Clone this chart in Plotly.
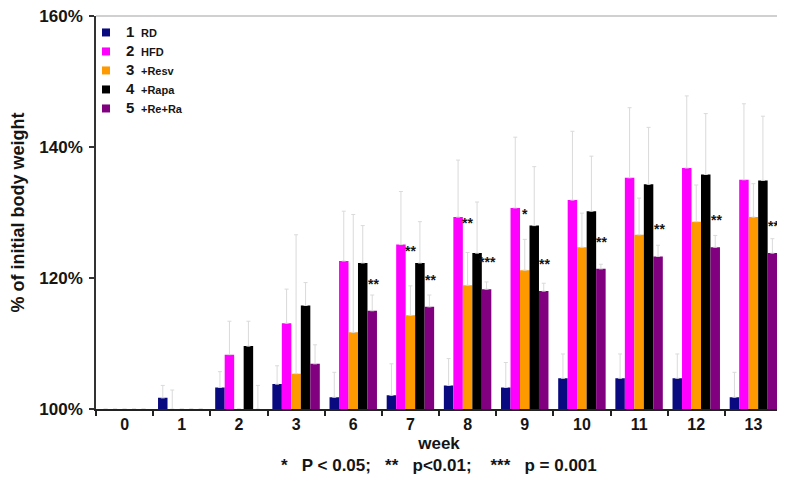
import plotly.graph_objects as go

weeks = ['0', '1', '2', '3', '6', '7', '8', '9', '10', '11', '12', '13']

rd = [100, 101.7, 103.3, 103.8, 101.8, 102.1, 103.6, 103.3, 104.7, 104.7, 104.7, 101.8]
rd_err = [0, 1.9, 2.4, 2.8, 3.8, 4.8, 4.1, 3.8, 3.7, 3.7, 3.7, 3.8]

hfd = [100, 100, 108.3, 113.1, 122.6, 125.1, 129.3, 130.7, 131.9, 135.3, 136.8, 135.0]
hfd_err = [0, 2.9, 5.1, 5.2, 7.6, 8.1, 8.7, 10.8, 10.5, 10.7, 11.0, 11.6]

resv = [100, 100, 100, 105.4, 111.7, 114.3, 118.9, 121.2, 124.7, 126.6, 128.6, 129.3]
resv_err = [0, 0, 0, 21.2, 18.0, 4.5, 5.0, 4.7, 5.2, 5.6, 5.6, 5.1]

rapa = [100, 100, 109.6, 115.8, 122.3, 122.3, 123.8, 128.0, 130.2, 134.3, 135.8, 134.9]
rapa_err = [0, 0, 3.8, 3.5, 5.7, 6.3, 7.8, 9.0, 8.4, 8.7, 9.3, 9.8]

rera = [100, 100, 100, 106.9, 115.0, 115.6, 118.3, 118.0, 121.4, 123.3, 124.7, 123.8]
rera_err = [0, 0, 3.6, 2.9, 2.4, 1.8, 1.1, 1.2, 0.7, 1.7, 1.8, 2.2]

hfd_stars = ['', '', '', '', '', '**', '**', '*', '', '', '', '']
rera_stars = ['', '', '', '', '**', '**', '***', '**', '**', '**', '**', '**']

group_nums = ['1', '2', '3', '4', '5']
group_names = ['RD', 'HFD', '+Resv', '+Rapa', '+Re+Ra']
colors = ['#0a0a80', '#ff00ff', '#ff9900', '#000000', '#800080']

series = [rd, hfd, resv, rapa, rera]
errors = [rd_err, hfd_err, resv_err, rapa_err, rera_err]

# page has an 8px body margin; margins below compensate for it
W, H = 785, 485
ML, MR, MT, MB = 88, 11, 8, 84
BARGAP = 0.17
FONT = 'Arial, Liberation Sans, sans-serif'
TXT = '#151515'

fig = go.Figure()
for i in range(5):
    fig.add_trace(go.Bar(
        x=weeks, y=series[i], name=group_names[i], showlegend=False,
        marker=dict(color=colors[i], line=dict(width=0)),
        error_y=dict(type='data', symmetric=False, array=errors[i],
                     arrayminus=[0] * len(weeks), color='#dadada',
                     thickness=1, width=2),
    ))
# legend entries (small square keys)
for i in range(5):
    fig.add_trace(go.Scatter(
        x=[weeks[0]], y=[None], mode='markers',
        marker=dict(symbol='square', size=8, color=colors[i]),
        name=(f"<span style='font-size:15px'><b>{group_nums[i]}</b></span>  "
              f"<span style='font-size:11px'><b>{group_names[i]}</b></span>"),
        showlegend=True, hoverinfo='skip',
    ))

# star annotations, positioned relative to bar geometry (x = category index)
plot_w = W - ML - MR
cat_w = plot_w / len(weeks)
bar_w = cat_w * (1 - BARGAP) / 5
annotations = []
for j, w in enumerate(weeks):
    if hfd_stars[j]:
        annotations.append(dict(x=j, y=hfd[j], xref='x', yref='y', text=f'<b>{hfd_stars[j]}</b>',
                                showarrow=False, xshift=0, yshift=4, yanchor='top',
                                font=dict(family=FONT, size=14, color=TXT)))
    if rera_stars[j]:
        annotations.append(dict(x=j, y=rera[j], xref='x', yref='y', text=f'<b>{rera_stars[j]}</b>',
                                showarrow=False, xshift=2 * bar_w + 1, yshift=27, yanchor='middle',
                                font=dict(family=FONT, size=14, color=TXT)))

annotations.append(dict(
    x=0.5, y=-57 / (H - MT - MB), xref='paper', yref='paper',
    text='<b>*\u00a0\u00a0\u00a0P < 0.05;\u00a0\u00a0\u00a0**\u00a0\u00a0\u00a0p<0.01;\u00a0\u00a0\u00a0\u00a0***\u00a0\u00a0\u00a0p = 0.001</b>',
    showarrow=False, yanchor='middle', font=dict(family=FONT, size=17, color=TXT)))

fig.update_layout(
    width=W, height=H,
    margin=dict(l=ML, r=MR, t=MT, b=MB),
    paper_bgcolor='white', plot_bgcolor='white',
    barmode='group', bargap=BARGAP, bargroupgap=0,
    font=dict(family=FONT, color=TXT),
    showlegend=True,
    legend=dict(x=-0.0146, y=0.995, xanchor='left', yanchor='top',
                bgcolor='rgba(0,0,0,0)', font=dict(family=FONT, size=12, color=TXT),
                tracegroupgap=0, itemwidth=30),
    annotations=annotations,
    shapes=[
        dict(type='line', xref='paper', yref='paper', x0=0, x1=1, y0=1, y1=1,
             line=dict(color='#d0d0d0', width=2)),
        dict(type='line', xref='paper', yref='paper', x0=1, x1=1, y0=0, y1=1,
             line=dict(color='#d0d0d0', width=1.5)),
    ],
)
fig.update_xaxes(
    type='category', tickson='boundaries', ticks='outside', ticklen=5, tickwidth=1.5,
    tickcolor='#222', showline=True, linecolor='#222', linewidth=2, showgrid=False,
    automargin=False, range=[-0.5, len(weeks) - 0.5],
    tickfont=dict(family=FONT, size=16, color=TXT, weight='bold'),
    title=dict(text='week', standoff=5, font=dict(family=FONT, size=17, color=TXT, weight='bold')),
)
fig.update_yaxes(
    range=[100, 160], dtick=20, ticksuffix='%', ticks='outside', ticklen=5, tickwidth=1.5,
    tickcolor='#333', showline=True, linecolor='#333', linewidth=1.5, showgrid=False,
    zeroline=False, automargin=False, ticklabelstandoff=3, ticklabeloverflow='allow',
    tickfont=dict(family=FONT, size=17, color=TXT, weight='bold'),
    title=dict(text='% of initial body weight', standoff=26,
               font=dict(family=FONT, size=18, color=TXT, weight='bold')),
)

fig.write_html('out.html')
